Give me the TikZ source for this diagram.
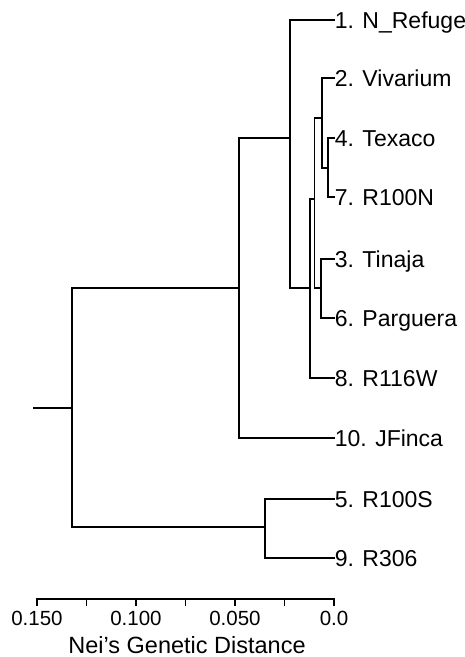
\documentclass[tikz,border=0pt]{standalone}
\usepackage{fontspec}
\setmainfont{Liberation Sans}
\begin{document}
\begin{tikzpicture}[x=1pt,y=-1pt,
  branch/.style={line width=1.6pt,line cap=rect},
  leaf/.style={anchor=west,inner sep=0.6pt,text height=16.5pt,text depth=0pt,font=\fontsize{23}{27}\selectfont},
  ticklab/.style={anchor=base,inner sep=0pt,font=\fontsize{20.5}{24}\selectfont},
  axistitle/.style={anchor=base,inner sep=0pt,font=\fontsize{23.5}{27}\selectfont}]
\useasboundingbox (0,0) rectangle (465,657);
% leaves
\node[leaf] (l1) at (334,20) {1. N\_Refuge};
\node[leaf] (l2) at (334,78) {2. Vivarium};
\node[leaf] (l4) at (334,138) {4. Texaco};
\node[leaf] (l7) at (334,197) {7. R100N};
\node[leaf] (l3) at (334,259) {3. Tinaja};
\node[leaf] (l6) at (334,318) {6. Parguera};
\node[leaf] (l8) at (334,378) {8. R116W};
\node[leaf] (l10) at (334,438) {10. JFinca};
\node[leaf] (l5) at (334,499) {5. R100S};
\node[leaf] (l9) at (334,558) {9. R306};
% internal nodes
\coordinate (r0) at (34,408);
\coordinate (B) at (72,408);
\coordinate (C) at (239,288);
\coordinate (D) at (265,527);
\coordinate (A) at (290,138);
\coordinate (T) at (310,288);
\coordinate (S) at (314.5,199);
\coordinate (P) at (322,118);
\coordinate (Q) at (328,168);
\coordinate (R) at (321,288);
% branches
\draw[branch] (r0) -- (B);
\draw[branch] (B) |- (C);
\draw[branch] (B) |- (D);
\draw[branch] (C) |- (A);
\draw[branch] (C) |- (l10.west);
\draw[branch] (D) |- (l5.west);
\draw[branch] (D) |- (l9.west);
\draw[branch] (A) |- (l1.west);
\draw[branch] (A) |- (T);
\draw[branch] (T) |- (S);
\draw[branch] (T) |- (l8.west);
\draw[branch] (S) |- (P);
\draw[branch] (S) |- (R);
\draw[branch] (P) |- (l2.west);
\draw[branch] (P) |- (Q);
\draw[branch] (Q) |- (l4.west);
\draw[branch] (Q) |- (l7.west);
\draw[branch] (R) |- (l3.west);
\draw[branch] (R) |- (l6.west);
% axis
\coordinate (ax0) at (37,599);
\coordinate (ax1) at (334,599);
\draw[branch] (ax0) -- (ax1);
\foreach \xx in {37,86.5,136,185.5,235,284.5,334}
  \draw[branch] (\xx,599) -- (\xx,605);
\node[ticklab] (t150) at (37,625) {0.150};
\node[ticklab] (t100) at (136,625) {0.100};
\node[ticklab] (t050) at (235,625) {0.050};
\node[ticklab] (t000) at (334,625) {0.0};
\node[axistitle] (title) at (187,653) {Nei’s Genetic Distance};
\end{tikzpicture}
\end{document}
